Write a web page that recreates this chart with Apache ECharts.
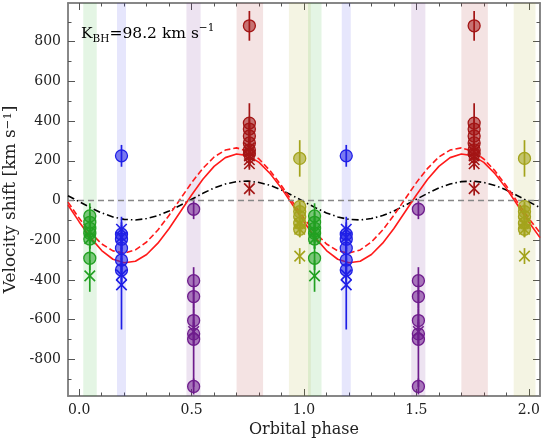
<!DOCTYPE html>
<html>
<head>
<meta charset="utf-8">
<script src="https://cdn.jsdelivr.net/npm/echarts@6/dist/echarts.min.js"></script>
<style>html,body{margin:0;padding:0;background:#fff}#c{width:546px;height:438px}</style>
</head>
<body>
<div id="c"></div>
<script>
// ---- data ----
const periods = [0, 1];
const groupPhase = [0.047, 0.188, 0.509, 0.757, 0.981]; // green, blue, purple, red, yellow
const bandStart  = [0.018, 0.168, 0.477, 0.700, 0.933];
const bandEnd    = [0.078, 0.208, 0.540, 0.818, 1.030];

const greenCircles = [-78, -110, -140, -165, -194, -291];
const greenCircleErr = [64, 50, 50, 50, 50, 60];
const greenCrosses = [-160, -192, -380];
const greenCrossErr = [50, 50, 80];

const blueCircles = [225, -170, -195, -240, -300, -350];
const blueCircleErr = [55, 60, 60, 60, 60, 60];
const blueCrosses = [-145, -185, -375, -425];
const blueCrossErr = [63, 60, 60, 225];

const purpleCircles = [-44, -404, -484, -605, -672, -699, -937];
const purpleCircleErr = [50, 68, 60, 60, 60, 240, 40];
const purpleCrosses = [-660];
const purpleCrossErr = [60];

const redCircles = [880, 390, 360, 325, 290, 255, 235];
const redCircleErr = [75, 100, 60, 60, 60, 60, 60];
const redCrosses = [265, 245, 225, 205, 185, 60];
const redCrossErr = [40, 40, 40, 40, 30, 35];

const yellowCircles = [212, -31, -56, -82, -115, -145];
const yellowCircleErr = [92, 25, 40, 40, 40, 40];
const yellowCrosses = [-115, -145, -280];
const yellowCrossErr = [40, 40, 40];

const curvePhase = [-0.05,0,0.05,0.1,0.15,0.2,0.25,0.3,0.35,0.4,0.45,0.5,0.55,0.6,0.65,0.7,0.75,0.8,0.85,0.9,0.95,
  1,1.05,1.1,1.15,1.2,1.25,1.3,1.35,1.4,1.45,1.5,1.55,1.6,1.65,1.7,1.75,1.8,1.85,1.9,1.95,2,2.05];
const redSolid = [-23,-108,-187,-252,-296,-314,-306,-272,-215,-141,-57,28,107,172,216,234,226,192,135,61,-23,
  -108,-187,-252,-296,-314,-306,-272,-215,-141,-57,28,107,172,216,234,226,192,135,61,-23,-108,-187];
const redDashed = [-8,-90,-162,-219,-254,-265,-249,-209,-149,-74,8,90,162,219,254,265,249,209,149,74,-8,
  -90,-162,-219,-254,-265,-249,-209,-149,-74,8,90,162,219,254,265,249,209,149,74,-8,-90,-162];
const blackDashDot = [24,-6,-36,-63,-83,-95,-98,-91,-76,-53,-24,6,36,63,83,95,98,91,76,53,24,
  -6,-36,-63,-83,-95,-98,-91,-76,-53,-24,6,36,63,83,95,98,91,76,53,24,-6,-36];

const xMajorTicks = [0, 0.5, 1, 1.5, 2];
const xMinorTicks = [0,0.1,0.2,0.3,0.4,0.5,0.6,0.7,0.8,0.9,1,1.1,1.2,1.3,1.4,1.5,1.6,1.7,1.8,1.9,2];
const yMajorTicks = [-800, -600, -400, -200, 0, 200, 400, 600, 800];
const yMinorTicks = [-900, -700, -500, -300, -100, 100, 300, 500, 700, 900];

// ---- styling ----
const edgeColors = ['#22a022', '#1f1fe6', '#6e1c8c', '#a31515', '#a3a31c'];
const fillColors = ['rgba(34,160,34,0.55)', 'rgba(31,31,230,0.55)', 'rgba(110,28,140,0.55)', 'rgba(163,21,21,0.55)', 'rgba(163,163,28,0.6)'];
const bandColors = ['rgba(34,170,34,0.12)', 'rgba(31,31,230,0.11)', 'rgba(110,28,140,0.12)', 'rgba(163,21,21,0.12)', 'rgba(163,163,28,0.12)'];

const circleSets = [greenCircles, blueCircles, purpleCircles, redCircles, yellowCircles];
const circleErrs = [greenCircleErr, blueCircleErr, purpleCircleErr, redCircleErr, yellowCircleErr];
const crossSets = [greenCrosses, blueCrosses, purpleCrosses, redCrosses, yellowCrosses];
const crossErrs = [greenCrossErr, blueCrossErr, purpleCrossErr, redCrossErr, yellowCrossErr];

const FONT = 'DejaVu Serif';
const AXC = '#808080';
const XMIN = -0.05, XMAX = 2.05, YMIN = -985, YMAX = 995;

function xAx(pos, ticks, len, label) {
  return {
    type: 'value', position: pos, min: XMIN, max: XMAX, gridIndex: 0,
    axisLine: { show: true, onZero: false, lineStyle: { color: AXC, width: 1.5 } },
    axisTick: { show: true, inside: true, length: len, customValues: ticks, lineStyle: { color: '#555', width: 1 } },
    axisLabel: label ? { show: true, customValues: ticks, margin: 7, fontFamily: FONT, fontSize: 14, color: '#222',
      formatter: v => v.toFixed(1) } : { show: false },
    splitLine: { show: false },
    name: label ? 'Orbital phase' : '', nameLocation: 'middle', nameGap: 26,
    nameTextStyle: { fontFamily: FONT, fontSize: 16, color: '#222' }
  };
}
function yAx(pos, ticks, len, label) {
  return {
    type: 'value', position: pos, min: YMIN, max: YMAX, gridIndex: 0,
    axisLine: { show: true, onZero: false, lineStyle: { color: AXC, width: 1.5 } },
    axisTick: { show: true, inside: true, length: len, customValues: ticks, lineStyle: { color: '#555', width: 1 } },
    axisLabel: label ? { show: true, customValues: ticks, margin: 7, fontFamily: FONT, fontSize: 14, color: '#222' } : { show: false },
    splitLine: { show: false },
    name: label ? 'Velocity shift [km s{sup|−1}]' : '', nameLocation: 'middle', nameGap: 43, nameRotate: 90,
    nameTextStyle: { fontFamily: FONT, fontSize: 17, color: '#222',
      rich: { sup: { fontFamily: FONT, fontSize: 11.5, verticalAlign: 'top', lineHeight: 12, color: '#222' } } }
  };
}

const series = [];
// bands + zero line
const bandData = [];
groupPhase.forEach((_, g) => periods.forEach(p => {
  bandData.push([{ xAxis: bandStart[g] + p, itemStyle: { color: bandColors[g] } }, { xAxis: bandEnd[g] + p }]);
}));
series.push({
  type: 'line', data: [], silent: true, z: 1,
  markArea: { silent: true, data: bandData },
  markLine: { silent: true, symbol: 'none', label: { show: false },
    lineStyle: { color: '#888', type: [6, 4], width: 1.3 }, data: [{ yAxis: 0 }] }
});
// curves
function curve(vals, color, type) {
  return { type: 'line', data: curvePhase.map((x, i) => [x, vals[i]]), showSymbol: false, symbol: 'none',
    silent: true, z: 3, lineStyle: { color: color, width: 1.6, type: type }, clip: true };
}
series.push(curve(blackDashDot, '#000', [7, 3, 1.5, 3]));
series.push(curve(redDashed, '#ff1a1a', [6, 3]));
series.push(curve(redSolid, '#ff1a1a', 'solid'));

// error bars and markers
groupPhase.forEach((ph, g) => {
  const bars = [];
  const circ = [];
  const crs = [];
  periods.forEach(p => {
    circleSets[g].forEach((v, i) => { bars.push([ph + p, v - circleErrs[g][i], v + circleErrs[g][i]]); circ.push([ph + p, v]); });
    crossSets[g].forEach((v, i) => { bars.push([ph + p, v - crossErrs[g][i], v + crossErrs[g][i]]); crs.push([ph + p, v]); });
  });
  const col = edgeColors[g];
  series.push({
    type: 'custom', data: bars, z: 4, silent: true, encode: { x: 0, y: [1, 2] },
    renderItem: (params, api) => {
      const a = api.coord([api.value(0), api.value(1)]);
      const b = api.coord([api.value(0), api.value(2)]);
      return { type: 'line', shape: { x1: a[0], y1: a[1], x2: b[0], y2: b[1] }, style: { stroke: col, lineWidth: 1.7 } };
    }
  });
  series.push({
    type: 'scatter', data: circ, z: 5, symbol: 'circle', symbolSize: 12, silent: true,
    itemStyle: { color: fillColors[g], borderColor: col, borderWidth: 1.3, opacity: 1 }
  });
  series.push({
    type: 'scatter', data: crs, z: 6, symbol: 'path://M0,0L10,10M10,0L0,10', symbolSize: 10.5, silent: true,
    itemStyle: { color: 'rgba(0,0,0,0)', borderColor: col, borderWidth: 1.6, opacity: 1 }
  });
});

const chart = echarts.init(document.getElementById('c'), null, { renderer: 'canvas' });
chart.setOption({
  animation: false,
  backgroundColor: '#fff',
  grid: { left: 68, right: 6, top: 3, bottom: 42, containLabel: false, outerBoundsMode: 'none' },
  xAxis: [xAx('bottom', xMajorTicks, 7, true), xAx('bottom', xMinorTicks, 3.5, false),
          xAx('top', xMajorTicks, 7, false), xAx('top', xMinorTicks, 3.5, false)],
  yAxis: [yAx('left', yMajorTicks, 7, true), yAx('left', yMinorTicks, 3.5, false),
          yAx('right', yMajorTicks, 7, false), yAx('right', yMinorTicks, 3.5, false)],
  graphic: [{
    type: 'text', left: 81, top: 23, z: 10,
    style: {
      text: '{k|K}{sub|BH}{k|=98.2 km s}{sup|−1}',
      rich: {
        k: { fontFamily: FONT, fontSize: 15.5, color: '#222', lineHeight: 22, verticalAlign: 'middle' },
        sub: { fontFamily: FONT, fontSize: 10.5, color: '#222', lineHeight: 13, verticalAlign: 'bottom' },
        sup: { fontFamily: FONT, fontSize: 10.5, color: '#222', lineHeight: 13, verticalAlign: 'top' }
      }
    }
  }],
  series: series
});
</script>
</body>
</html>
